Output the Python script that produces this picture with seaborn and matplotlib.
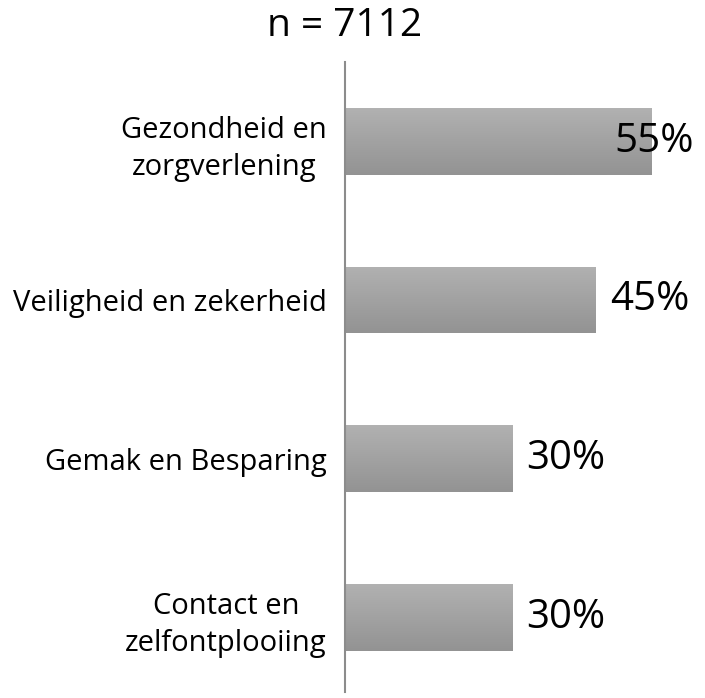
import matplotlib
matplotlib.use("Agg")
import matplotlib.pyplot as plt
import seaborn as sns
import pandas as pd
import numpy as np

categories = ["Gezondheid en\nzorgverlening", "Veiligheid en zekerheid",
              "Gemak en Besparing", "Contact en\nzelfontplooiing"]
values = [55, 45, 30, 30]
labels = ["55%", "45%", "30%", "30%"]
title = "n = 7112"

sns.set_style("white")
plt.rcParams["font.family"] = ["Open Sans", "DejaVu Sans"]
plt.rcParams["text.color"] = "black"
plt.rcParams["ytick.color"] = "black"

df = pd.DataFrame({"cat": categories, "val": values})

fig = plt.figure(figsize=(7.05, 6.98), dpi=100)
ax = fig.add_axes([345 / 705, 6 / 698, 1 - 345 / 705, 630 / 698])
sns.barplot(data=df, y="cat", x="val", color="#a5a5a5", width=0.42, ax=ax,
            orient="h")

# vertical gradient on each bar
grad = np.linspace(0, 1, 64).reshape(-1, 1)
cmap = matplotlib.colors.LinearSegmentedColormap.from_list("g", ["#b1b1b1", "#939393"])
for p in ax.patches:
    x0, y0 = p.get_x(), p.get_y()
    w, h = p.get_width(), p.get_height()
    im = ax.imshow(grad, cmap=cmap, aspect="auto", extent=[x0, x0 + w, y0 + h, y0],
                   zorder=2)
    im.set_clip_path(p)
    p.set_facecolor("none")

xmax = 64.6
ax.set_xlim(0, xmax)
ax.set_ylim(3.47, -0.5)

for i, (v, lab) in enumerate(zip(values, labels)):
    ax.text(min(v + 2.5, 48.3), i, lab, ha="left", va="center", fontsize=29,
            color="black", zorder=3)

for s in ["top", "right", "bottom"]:
    ax.spines[s].set_visible(False)
ax.spines["left"].set_color("#8c8c8c")
ax.spines["left"].set_linewidth(1.5)
ax.set_xticks([])
ax.set_xlabel("")
ax.set_ylabel("")
ax.tick_params(axis="y", length=0, pad=13, labelcolor="black")
for t in ax.get_yticklabels():
    t.set_fontsize(21)
    t.set_multialignment("center")
    t.set_linespacing(1.35)

fig.text(345 / 705, 1 - 26 / 698, title, ha="center", va="center", fontsize=28,
         color="black")

fig.savefig("out.png", dpi=100)
